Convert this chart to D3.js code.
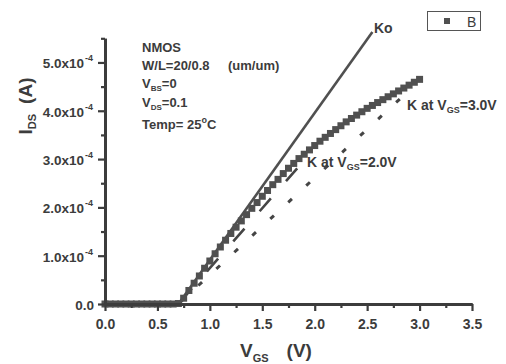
<!DOCTYPE html>
<html><head><meta charset="utf-8">
<script src="https://cdn.jsdelivr.net/npm/d3@7"></script>
<style>
body{margin:0;background:#fff;}
svg{display:block;font-family:"Liberation Sans",Arial,sans-serif;}
</style></head>
<body><svg id="c" width="506" height="364"></svg>
<script>
// ---- data (current in units of 1e-4 A) ----
const xMajor=[0,0.5,1.0,1.5,2.0,2.5,3.0,3.5];
const xMinor=[0.25,0.75,1.25,1.75,2.25,2.75,3.25];
const xTickLabels=["0.0","0.5","1.0","1.5","2.0","2.5","3.0","3.5"];
const yMajor=[0,1,2,3,4,5];
const yMinor=[0.5,1.5,2.5,3.5,4.5,5.5];
const yTickMantissa=["0.0","1.0x10","2.0x10","3.0x10","4.0x10","5.0x10"];
const yTickExponent=["","-4","-4","-4","-4","-4"];

const bV=[0,0.05,0.10,0.15,0.20,0.25,0.30,0.35,0.40,0.45,0.50,0.55,0.60,0.65,0.70,0.75,0.80,0.85,0.90,0.95,1.00,1.05,1.10,1.15,1.20,1.25,1.30,1.35,1.40,1.45,1.50,1.55,1.60,1.65,1.70,1.75,1.80,1.85,1.90,1.95,2.00,2.05,2.10,2.15,2.20,2.25,2.30,2.35,2.40,2.45,2.50,2.55,2.60,2.65,2.70,2.75,2.80,2.85,2.90,2.95,3.00];
const bI=[0,0,0,0,0,0,0,0,0,0,0,0,0,0,0.01,0.12,0.28,0.43,0.58,0.74,0.89,1.04,1.18,1.32,1.46,1.59,1.72,1.85,1.98,2.10,2.23,2.35,2.47,2.58,2.70,2.81,2.91,3.01,3.10,3.19,3.28,3.37,3.45,3.53,3.61,3.69,3.77,3.84,3.91,3.98,4.05,4.11,4.17,4.23,4.29,4.35,4.41,4.47,4.53,4.59,4.65];
const koV=[0.70,2.55], koI=[0,5.63];
const k3V=[0.70,2.82], k3I=[0,4.26];
const k2V=[0.70,1.85], k2I=[0,2.85];

const svg=d3.select("#c");
const x=d3.scaleLinear([0,3.5],[105,472]);
const y=d3.scaleLinear([0,5.5],[304,38.3]);
const dark="#3c3c3c";

const line=d3.line().x(d=>x(d[0])).y(d=>y(d[1]));
// Ko
svg.append("path").attr("d",line(d3.zip(koV,koI))).attr("fill","none").attr("stroke","#505050").attr("stroke-width",2.6);
// K at VGS=3.0V (short dashes)
svg.append("path").attr("d",line(d3.zip(k3V,k3I))).attr("fill","none").attr("stroke","#454545")
  .attr("stroke-width",3).attr("stroke-dasharray","5,19.5").attr("stroke-dashoffset",-2.7);
// K at VGS=2.0V (long dashes)
svg.append("path").attr("d",line(d3.zip(k2V,k2I))).attr("fill","none").attr("stroke","#454545")
  .attr("stroke-width",2.6).attr("stroke-dasharray","17,23").attr("stroke-dashoffset",-3.3);
// B squares
const sq=7;
svg.append("g").selectAll("rect").data(d3.zip(bV,bI)).join("rect")
  .attr("x",d=>x(d[0])-sq/2).attr("y",d=>y(d[1])-sq/2).attr("width",sq).attr("height",sq)
  .attr("fill","#505050");

// axes
const gx=svg.append("g").attr("transform","translate(0,304)");
gx.call(d3.axisBottom(x).tickValues(xMajor).tickSize(7).tickFormat((d,i)=>xTickLabels[i]).tickSizeOuter(0));
gx.append("g").call(d3.axisBottom(x).tickValues(xMinor).tickSize(4).tickFormat("").tickSizeOuter(0));
const gy=svg.append("g").attr("transform","translate(105,0)");
gy.call(d3.axisLeft(y).tickValues(yMajor).tickSize(7).tickFormat("").tickSizeOuter(0));
gy.append("g").call(d3.axisLeft(y).tickValues(yMinor).tickSize(4).tickFormat("").tickSizeOuter(0));
svg.selectAll(".domain").attr("stroke",dark).attr("stroke-width",3);
svg.selectAll(".tick line").attr("stroke",dark).attr("stroke-width",2.2);
gx.selectAll(".tick text").attr("font-size",14).attr("font-weight","bold").attr("fill",dark)
  .attr("font-family","Liberation Sans, Arial, sans-serif").attr("dy","1.1em");

// y tick labels with superscript
yMajor.forEach((v,i)=>{
  svg.append("text").attr("x",yTickExponent[i]?84:94).attr("y",y(v)+6)
    .attr("text-anchor","end").attr("font-size",13.5).attr("font-weight","bold").attr("fill",dark)
    .text(yTickMantissa[i]);
  if(yTickExponent[i]){
    svg.append("text").attr("x",85).attr("y",y(v)-1).attr("font-size",9).attr("font-weight","bold")
      .attr("fill",dark).text(yTickExponent[i]);
  }
});

// axis titles
const yt=svg.append("text").attr("transform","translate(32,106) rotate(-90)").attr("text-anchor","middle")
  .attr("font-size",19).attr("font-weight","bold").attr("fill",dark);
yt.append("tspan").text("I");
yt.append("tspan").attr("font-size",11).attr("dy",4).text("DS");
yt.append("tspan").attr("dy",-4).attr("dx",10).text("(A)");

const xt=svg.append("text").attr("x",240).attr("y",357).attr("font-size",19).attr("font-weight","bold").attr("fill",dark);
xt.append("tspan").text("V");
xt.append("tspan").attr("font-size",11).attr("dy",5).text("GS");
xt.append("tspan").attr("dy",-5).attr("dx",18).text("(V)");

// annotations
const ann=(xx,yy,fs)=>svg.append("text").attr("x",xx).attr("y",yy).attr("font-size",fs||13).attr("font-weight","bold").attr("fill",dark);
ann(142,52).text("NMOS");
ann(142,70).text("W/L=20/0.8");
ann(228,70).text("(um/um)");
let t=ann(142,88); t.append("tspan").text("V"); t.append("tspan").attr("font-size",8).attr("dy",3).text("BS"); t.append("tspan").attr("dy",-3).text("=0");
t=ann(142,107); t.append("tspan").text("V"); t.append("tspan").attr("font-size",8).attr("dy",3).text("DS"); t.append("tspan").attr("dy",-3).text("=0.1");
t=ann(142,129); t.append("tspan").text("Temp= 25"); t.append("tspan").attr("font-size",9).attr("dy",-6).text("o"); t.append("tspan").attr("dy",6).text("C");
ann(374,33,14).text("Ko");
t=ann(407,110,14); t.append("tspan").text("K at V"); t.append("tspan").attr("font-size",9).attr("dy",3).text("GS"); t.append("tspan").attr("dy",-3).text("=3.0V");
t=ann(307,167,14); t.append("tspan").text("K at V"); t.append("tspan").attr("font-size",9).attr("dy",3).text("GS"); t.append("tspan").attr("dy",-3).text("=2.0V");

// legend
svg.append("rect").attr("x",427.5).attr("y",11.5).attr("width",53).attr("height",19).attr("fill","none").attr("stroke","#555").attr("stroke-width",1);
svg.append("rect").attr("x",444).attr("y",18).attr("width",6).attr("height",6).attr("fill","#505050");
svg.append("text").attr("x",467).attr("y",27).attr("font-size",14).attr("fill",dark).text("B");
</script></body></html>
